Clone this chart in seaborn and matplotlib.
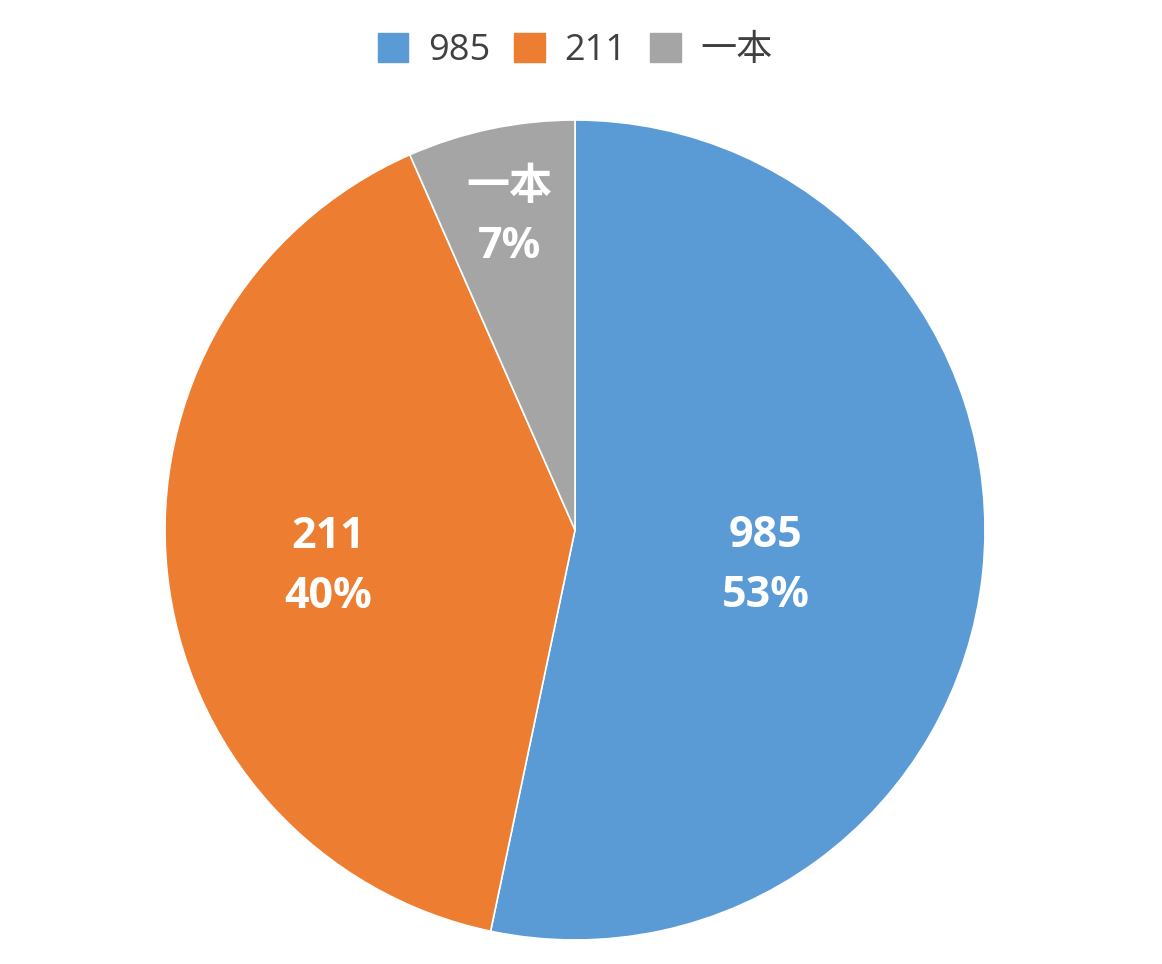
import matplotlib
matplotlib.use("Agg")
import matplotlib.pyplot as plt
import seaborn as sns
import numpy as np

categories = ["985", "211", "一本"]
values = [53.3, 40.1, 6.6]
pct_labels = ["53%", "40%", "7%"]

sns.set_theme(style="white")
plt.rcParams['font.family'] = ['Open Sans', 'Noto Sans CJK SC', 'DejaVu Sans']

colors = ["#5B9BD5", "#ED7D31", "#A5A5A5"]

fig = plt.figure(figsize=(11.62, 9.64), dpi=100)
cx, cy = 575 / 1162, 1 - 530 / 964
rw, rh = 410 / 1162, 410 / 964
ax = fig.add_axes([cx - rw, cy - rh, 2 * rw, 2 * rh])

wedges, _ = ax.pie(values, colors=colors, startangle=90, counterclock=False,
                   radius=1.0, labeldistance=None,
                   wedgeprops=dict(edgecolor="white", linewidth=1.2))
ax.set_xlim(-1, 1)
ax.set_ylim(-1, 1)
ax.set_aspect("equal")
ax.axis("off")

label_r = [0.467, 0.605, 0.78]
label_dy = [-0.038, -0.027, 0.0]
for w, cat, pct, r, dy in zip(wedges, categories, pct_labels, label_r, label_dy):
    mid = np.deg2rad((w.theta1 + w.theta2) / 2)
    x, y = r * np.cos(mid), r * np.sin(mid) + dy
    ax.text(x, y, f"{cat}\n{pct}", ha="center", va="center", color="white",
            fontsize=31, fontweight="bold", linespacing=1.5,
            family=['Open Sans', 'Noto Sans CJK SC', 'DejaVu Sans'])

handles = [plt.Rectangle((0, 0), 1, 1, color=c) for c in colors]
leg = fig.legend(handles, categories, loc="center", bbox_to_anchor=(0.495, 1 - 51 / 964),
                 ncol=3, frameon=False, fontsize=26, handlelength=0.85, handleheight=0.85,
                 handletextpad=0.55, columnspacing=0.65)
for t in leg.get_texts():
    t.set_color("#404040")

fig.savefig("out.png", dpi=100, facecolor="white")
